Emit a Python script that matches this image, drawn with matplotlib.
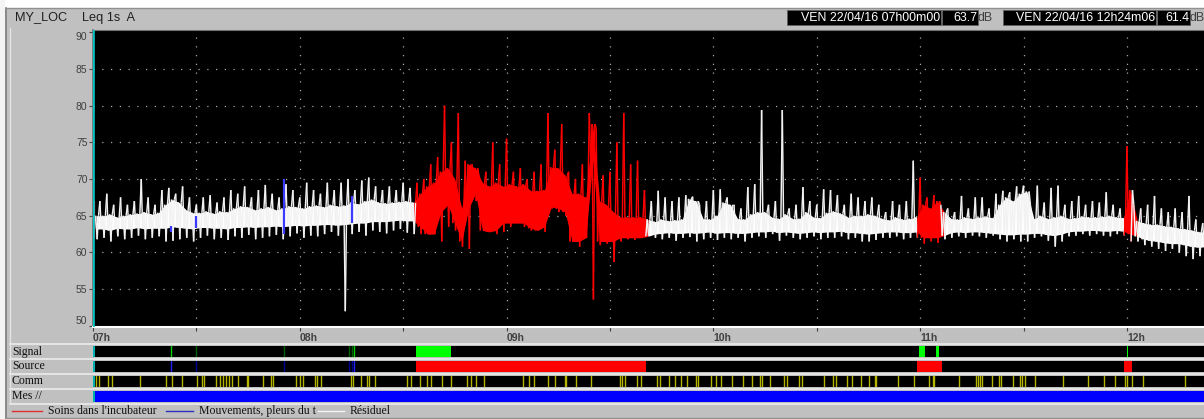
import numpy as np
import matplotlib
matplotlib.use("Agg")
import matplotlib.pyplot as plt
from matplotlib.collections import LineCollection
from matplotlib.lines import Line2D
from matplotlib.patches import Rectangle

# ---------------- data ----------------
station = "MY_LOC"
index_label = "Leq 1s  A"
start_label = "VEN 22/04/16 07h00m00"
start_value = "63.7"
end_label = "VEN 22/04/16 12h24m06"
end_value = "61.4"
unit = "dB"

t0_hour = 7.0
duration_min = 324.1          # 07h00m00 -> 12h24m06
step_min = 2.0                # one envelope reading every 2 minutes

# envelope readings (dB) : spike maxima / minima and dense core band
peak_hi = [67.5, 67, 68, 66.5, 67.5, 66.5, 67, 70, 67.5, 66.5,
           68.5, 68.8, 68, 69, 67.5, 66.5, 67.5, 67.8, 66.8, 67.5,
           68.5, 68, 69, 67.5, 68.5, 69.2, 68, 67.5, 69.3, 68.5,
           67.5, 69.5, 68.5, 68, 69.5, 68.5, 69.5, 70, 68.5, 69.8,
           70.2, 69, 68.5, 69, 68.5, 69.5, 68.8, 69.5,
           70, 72, 73, 80, 75, 79, 72.5, 72, 70.5, 71, 75, 72, 75.5, 71, 71.5, 70,
           71, 72, 79, 74, 77.5, 71, 70, 72, 79, 77, 70.5, 71, 75, 79, 72, 72.5, 68.5,
           67, 68.4, 67.5, 67, 67.5, 67.8, 67.6, 66.5, 67, 68.5, 68.6, 67.5, 66.5,
           66, 68.9, 69.3, 79.4, 66.5, 67, 79.4, 66, 66.5, 68.9, 67, 66.5, 68.6,
           68.5, 67.8, 66.5, 68, 67.5, 67, 67.5, 66.5, 65.5, 67, 66.5, 67, 72.5,
           70.2, 67.5, 67.8, 66.5, 66, 65.5, 67.7, 66, 67.5, 67.5, 66, 68, 68.4,
           68.2, 69, 69.1, 66.5, 69.1, 66.8, 68.8, 69.1, 66.5, 67, 67.7, 66.5, 67,
           66.8, 68.2, 66.5, 66, 74.5, 66.5, 66, 66.5, 67.7, 66, 65.5, 66, 65.5,
           67.7, 64.5, 64, 63.5]
peak_lo = [61.8, 62, 61.5, 62.2, 61.8, 62, 62.3, 61.8, 62, 62.2,
           61.5, 61.6, 61.8, 62, 61.5, 62, 62.3, 61.8, 62, 61.7,
           62.2, 62, 62.4, 61.8, 62, 62.2, 62.4, 61.8, 62.2, 62.6,
           62, 62.3, 62.2, 62.5, 62.8, 62.3, 52, 62.5, 62.8, 62.3,
           63, 62.8, 62.6, 63, 63.2, 62.7, 62.5, 62.5,
           63, 62.5, 61.5, 63.5, 63, 60.8, 60.5, 67, 65, 63, 62.5, 62.8, 63.5, 64,
           63.5, 63, 63.2, 62.8, 66, 65.5, 65, 61.5, 60.8, 62, 53.6, 61, 61.2, 58.7,
           61.5, 61.8, 61.7, 62, 62.3,
           62, 61.8, 62, 61.6, 62, 62.1, 61.5, 61.8, 62, 61.7, 62, 61.8, 62, 61.5,
           62, 62.2, 62, 62.5, 61.6, 62.3, 62, 61.8, 62, 62.2, 61.8, 62, 62, 62.2,
           61.8, 62, 61.5, 61.5, 61.7, 62, 62, 62.2, 61.8, 62, 62,
           61.2, 61.5, 61.3, 61.8, 62, 62.2, 62, 62.3, 62.2, 62, 62.3, 61.8, 61.5,
           61.8, 61.5, 61.5, 62, 62.2, 61.6, 60.8, 61.5, 62.2, 62.3, 62.5, 62.3,
           62.5, 62.3, 62.2, 62.5, 62.3, 61.5, 61.5, 61, 60.8, 60.5, 60.2, 60.5,
           60, 59.5, 59.1, 59.5, 60, 60]
band_lo = [63.2, 63.2, 63.0, 63.3, 63.2, 63.2, 63.4, 63.2, 63.3, 63.3,
           63.3, 63.5, 63.4, 63.3, 63.2, 63.4, 63.4, 63.3, 63.3, 63.2,
           63.4, 63.4, 63.5, 63.4, 63.5, 63.5, 63.6, 63.5, 63.6, 63.7,
           63.6, 63.7, 63.7, 63.8, 63.8, 63.7, 63.8, 63.9, 64.0, 64.0,
           64.2, 64.2, 64.2, 64.3, 64.4, 64.3, 64.3, 63.5,
           62.5, 62.5, 65.5, 66.5, 64.0, 61.5, 66.0, 68.0, 63.0, 62.8, 63.0, 64.0,
           64.0, 64.0, 64.0, 63.3, 63.0, 63.5, 66.2, 66.0, 65.5, 61.5, 61.5, 62.0,
           72.5, 61.5, 61.5, 61.5, 62.0, 62.0, 62.0, 62.0, 62.2,
           62.5, 62.6, 62.7, 62.6, 62.6, 62.7, 62.6, 62.7, 62.8, 62.6,
           62.7, 62.7, 62.6, 62.6, 62.7, 62.8, 62.8, 62.9, 62.7, 62.8,
           62.7, 62.6, 62.7, 62.8, 62.7, 62.8, 62.8, 62.9, 62.7, 62.7,
           62.6, 62.5, 62.6, 62.7, 62.8, 62.8, 62.7, 62.7, 62.8,
           62.0, 62.0, 62.0, 62.3,
           62.7, 62.8, 62.7, 62.8, 62.8, 62.7, 62.6, 62.5, 62.4, 62.4,
           62.5, 62.5, 62.6, 62.6, 62.4, 62.3, 62.5, 62.8, 62.9, 62.9,
           63.0, 63.0, 62.9, 62.9, 63.0, 62.9,
           62.5,
           62.2, 61.8, 61.6, 61.5, 61.3, 61.2, 61.2, 61.0, 60.8, 60.7, 60.8, 60.9]
band_hi = [65.0, 65.0, 65.2, 64.8, 65.0, 65.2, 65.3, 65.5, 65.2, 65.4,
           66.5, 67.2, 66.8, 65.8, 65.4, 65.4, 65.6, 65.3, 65.6, 65.5,
           66.0, 66.3, 66.2, 65.8, 66.0, 66.2, 65.8, 66.0, 66.3, 66.2,
           66.0, 66.3, 66.4, 66.2, 66.5, 66.3, 66.4, 66.8, 66.6, 67.0,
           67.2, 66.8, 66.7, 66.8, 66.9, 67.0, 66.8, 68.0,
           69.0, 69.5, 71.0, 71.5, 70.0, 66.0, 72.0, 71.5, 69.5, 69.0, 69.5, 69.0,
           69.3, 69.0, 69.3, 68.4, 68.4, 68.5, 71.6, 71.5, 70.5, 68.0, 68.0, 67.5,
           77.5, 67.0, 66.5, 65.5, 64.8, 64.8, 64.8, 64.8, 64.5,
           64.2, 64.5, 64.3, 64.4, 64.5, 67.3, 67.0, 64.6, 64.5, 65.0,
           66.8, 66.5, 64.6, 64.5, 65.2, 65.5, 65.5, 64.8, 64.6, 65.2,
           64.6, 64.6, 65.5, 64.8, 64.7, 65.4, 65.6, 65.3, 64.8, 65.0,
           65.0, 65.2, 65.0, 64.6, 64.4, 64.8, 64.5, 64.6, 64.8,
           66.5, 66.0, 67.0, 65.5,
           64.6, 64.5, 64.8, 64.6, 64.8, 64.9, 64.7, 66.5, 67.5, 67.0,
           68.0, 68.3, 64.6, 65.0, 64.6, 64.8, 65.0, 64.6, 64.7, 64.9,
           64.8, 64.8, 64.9, 65.0, 64.8, 64.7,
           68.5,
           64.3, 64.0, 63.8, 63.8, 63.6, 63.5, 63.3, 63.2, 63.0, 62.8, 62.8, 62.7]

# events (minutes after 07h00)
soins_spans = [(93.7, 160.4), (239.2, 246.2), (299.2, 301.4)]
mouvements = [(22.6, 62.8, 63.6), (29.9, 63.4, 64.9), (55.4, 62.5, 70.0), (75.1, 64.0, 67.7)]
soins_blip = [(0.3, 62.0, 67.0)]

signal_spans = [(93.7, 103.9), (239.6, 241.4), (244.6, 245.5), (299.9, 300.4)]
signal_ticks_bright = [22.6, 75.7]
signal_ticks_dark = [29.9, 55.4, 74.3, 75.1]
source_ticks_bright = [22.6, 75.7]
source_ticks_dark = [29.9, 55.4, 74.3, 75.1]
comm_ticks = [0.9, 1.7, 4.3, 5.6, 13.6, 21.2, 23.0, 25.8, 30.2, 31.6, 32.3, 35.7, 36.9,
              37.6, 38.6, 39.4, 40.2, 42.2, 44.6, 45.1, 49.4, 51.6, 52.1, 58.8, 60.0,
              61.0, 64.3, 65.0, 66.1, 74.9, 75.5, 77.7, 79.4, 80.2, 81.8, 91.0, 92.2,
              94.9, 96.8, 98.2, 101.2, 103.8, 108.4, 109.6, 111.0, 113.5, 124.9, 126.6,
              128.0, 131.9, 134.1, 136.9, 137.2, 140.1, 144.5, 152.9, 153.4, 154.4,
              157.9, 159.1, 163.7, 164.5, 167.1, 168.8, 170.5, 172.3, 175.0, 175.6,
              179.2, 180.7, 182.2, 185.3, 188.5, 191.1, 193.5, 194.0, 196.5, 200.4,
              201.4, 204.8, 205.8, 212.2, 214.6, 215.7, 218.7, 220.2, 222.9, 225.2,
              226.8, 227.2, 233.5, 238.1, 242.5, 243.8, 244.1, 251.2, 256.2, 256.8,
              257.4, 257.9, 260.8, 262.8, 263.5, 267.0, 268.9, 269.5, 270.3, 273.4,
              281.4, 288.6, 293.4, 296.5, 299.4, 299.9, 301.5, 304.6, 316.9]

hour_labels = ["07h", "08h", "09h", "10h", "11h", "12h"]
y_ticks = [50, 55, 60, 65, 70, 75, 80, 85, 90]
strip_names = ["Signal", "Source", "Comm", "Mes //"]
legend_names = ["Soins dans l'incubateur", "Mouvements, pleurs du t", "Résiduel"]
legend_colors = ["#e03030", "#3030c0", "#f4f4f4"]

# ---------------- figure ----------------
W, H = 1204, 419
fig = plt.figure(figsize=(W / 100, H / 100), dpi=100)
fig.patch.set_facecolor("#c0c0c0")


def fx(p):
    return p / W


def fy(p):
    return 1 - p / H


def hrs(m):
    return t0_hour + np.asarray(m, dtype=float) / 60.0


def in_soins(m):
    return any(a < m < b for a, b in soins_spans)


x_end = t0_hour + duration_min / 60.0
SANS = ["Liberation Sans", "DejaVu Sans"]
SERIF = ["Liberation Serif", "DejaVu Serif"]
RED = "#ff0000"

# ---- frame decorations ----
fig.add_artist(Rectangle((0, fy(8)), 1, 8 / H, transform=fig.transFigure,
                         facecolor="white", edgecolor="none"))
fig.add_artist(Rectangle((0, 0), fx(5), 1, transform=fig.transFigure,
                         facecolor="#f4f4f4", edgecolor="none"))
fig.add_artist(Line2D([fx(5.5), fx(5.5)], [0, fy(8)], transform=fig.transFigure,
                      color="#808080", lw=1.2))
fig.add_artist(Line2D([fx(5.5), 1], [fy(8.5), fy(8.5)], transform=fig.transFigure,
                      color="#909090", lw=1.0))
fig.add_artist(Line2D([fx(10), fx(10)], [fy(403), fy(28)], transform=fig.transFigure,
                      color="#e4e4e4", lw=1.0))

# header
fig.text(fx(15), fy(17.5), station, va="center", ha="left", fontsize=9.2,
         family=SANS, color="#202020")
fig.text(fx(82), fy(17.5), index_label, va="center", ha="left", fontsize=9.2,
         family=SANS, color="#202020")
boxes = [(787, 941, start_label), (942, 978, start_value),
         (1003, 1156, end_label), (1157, 1190, end_value)]
for x0, x1, txt in boxes:
    fig.add_artist(Rectangle((fx(x0), fy(25.5)), (x1 - x0) / W, 15.5 / H,
                             transform=fig.transFigure, facecolor="black",
                             edgecolor="#606060", lw=0.6))
    fig.text(fx(x1 - 1), fy(17.8), txt, va="center", ha="right", fontsize=8.9,
             family=SANS, color="white")
fig.text(fx(978), fy(17.8), unit, va="center", ha="left", fontsize=8.9,
         family=SANS, color="#404040")
fig.text(fx(1190), fy(17.8), unit, va="center", ha="left", fontsize=8.9,
         family=SANS, color="#404040")

# ---- main plot ----
ax = fig.add_axes([fx(93), fy(327), (1210 - 93) / W, (327 - 30) / H])
ax.set_facecolor("black")
ax.set_xlim(t0_hour, x_end)
ax.set_ylim(49.85, 90.3)

for yv in y_ticks[1:-1]:
    ax.axhline(yv, color="#a8a8a8", lw=0.9, ls=(0, (1, 6)), zorder=1)
half_hours = np.arange(t0_hour, 12.5, 0.5)
for xv in half_hours[1:]:
    ax.axvline(xv, color="#a8a8a8", lw=0.9, ls=(0, (1, 6)), zorder=1)

n = len(peak_hi)
samples = np.arange(n) * step_min
is_red = np.array([in_soins(m + step_min / 2) for m in samples])
blo = np.array(band_lo)
bhi = np.array(band_hi)

# dense core band, drawn run by run (white / red)
centers = hrs(samples + step_min / 2)
start = 0
for k in range(1, n + 1):
    if k == n or is_red[k] != is_red[start]:
        s0 = max(start - 1, 0) if is_red[start] else start
        s1 = min(k + 1, n) if is_red[start] else k
        ax.fill_between(centers[s0:s1], blo[s0:s1], bhi[s0:s1],
                        color=RED if is_red[start] else "white", lw=0,
                        zorder=3 if is_red[start] else 2)
        start = k

# trace: inside each 2-min reading the signal swings across its dense band and
# out to its spike maximum / minimum
offsets = [0.0, 0.4, 0.8, 1.2, 1.6]
vx, vy = [], []
for m, a, b, c, d in zip(samples, peak_hi, band_lo, band_hi, peak_lo):
    vx += [m + o for o in offsets]
    vy += [a, b, c, d, c]
vx = np.array(vx)
vy = np.array(vy)
pts = np.column_stack([hrs(vx), vy])
segs = np.stack([pts[:-1], pts[1:]], axis=1)
seg_col = [RED if in_soins((vx[k] + vx[k + 1]) / 2) else "#f2f2f2"
           for k in range(len(vx) - 1)]
ax.add_collection(LineCollection(segs, colors=seg_col, linewidths=1.05, zorder=3))

for m, lo, hi in mouvements:
    ax.vlines(hrs(m), lo, hi, colors="#3a3aff", lw=1.6, zorder=4)
for m, lo, hi in soins_blip:
    ax.vlines(hrs(m), lo, hi, colors="#ff4040", lw=1.6, zorder=4)
ax.axvline(t0_hour, color="#00c8c8", lw=2.6, zorder=5)

ax.set_yticks(y_ticks)
ax.set_yticklabels([str(v) for v in y_ticks], family=SANS)
ax.tick_params(axis="y", length=3, width=0.8, color="#404040", labelsize=7.5,
               labelcolor="#404040", pad=1)
ylabs = ax.get_yticklabels()
ylabs[0].set_va("bottom")
ylabs[-1].set_va("top")

xt_labels = []
for h in hour_labels:
    xt_labels += [h, ""]
ax.set_xticks(half_hours)
ax.set_xticklabels(xt_labels[:len(half_hours)], family=SANS, fontweight="bold")
ax.tick_params(axis="x", length=3, width=0.8, color="#404040", labelsize=7.5,
               labelcolor="#404040", pad=1.5)
for lab in ax.get_xticklabels():
    lab.set_ha("left")

ax.spines["right"].set_visible(False)
ax.spines["top"].set_color("#707070")
ax.spines["left"].set_color("#707070")
ax.spines["left"].set_linewidth(1.2)
ax.spines["bottom"].set_color("white")
ax.spines["bottom"].set_linewidth(1.5)

# ---- strips ----
strip_rows = [(346, 357), (360.5, 371.5), (375.5, 386.5), (390.5, 401.5)]
strip_axes = []
for (top, bot), name in zip(strip_rows, strip_names):
    sa = fig.add_axes([fx(93), fy(bot), (1210 - 93) / W, (bot - top) / H])
    sa.set_facecolor("black")
    sa.set_xlim(t0_hour, x_end)
    sa.set_ylim(0, 1)
    sa.set_xticks([])
    sa.set_yticks([])
    for s in sa.spines.values():
        s.set_visible(False)
    strip_axes.append(sa)
    fig.text(fx(12), fy((top + bot) / 2), name, va="center", ha="left",
             fontsize=8.5, family=SERIF, color="#101010")

for yl in [343.5, 358.5, 373.5, 388.5, 403.5]:
    fig.add_artist(Line2D([fx(10), 1], [fy(yl), fy(yl)], transform=fig.transFigure,
                          color="#e8e8e8", lw=1.3))
fig.add_artist(Line2D([fx(5.5), 1], [fy(417.5), fy(417.5)], transform=fig.transFigure,
                      color="#909090", lw=1.0))

sig, src, com, mes = strip_axes
for a, b in signal_spans:
    sig.axvspan(hrs(a), hrs(b), color="#00ff00", lw=0)
for m in signal_ticks_bright:
    sig.axvline(hrs(m), color="#00d000", lw=1.0)
for m in signal_ticks_dark:
    sig.axvline(hrs(m), color="#006000", lw=1.0)
for a, b in soins_spans:
    src.axvspan(hrs(a), hrs(b), color=RED, lw=0)
for m in source_ticks_bright:
    src.axvline(hrs(m), color="#2020ff", lw=1.0)
for m in source_ticks_dark:
    src.axvline(hrs(m), color="#000090", lw=1.0)
for m in comm_ticks:
    com.axvline(hrs(m), color="#b4b400", lw=1.0)
mes.axvspan(t0_hour, x_end, color="#0000ff", lw=0)
for sa in strip_axes:
    sa.axvline(t0_hour, color="#00b0b0", lw=2.2)

# ---- legend row ----
leg_x = [(12, 42, 48), (166, 193, 199), (318, 344, 350)]
for (x0, x1, xt), name, col in zip(leg_x, legend_names, legend_colors):
    fig.add_artist(Line2D([fx(x0), fx(x1)], [fy(410.5), fy(410.5)],
                          transform=fig.transFigure, color=col, lw=1.0))
    fig.text(fx(xt), fy(410.5), name, va="center", ha="left", fontsize=8.5,
             family=SERIF, color="#101010")

fig.savefig("out.png", dpi=100, facecolor=fig.get_facecolor())
